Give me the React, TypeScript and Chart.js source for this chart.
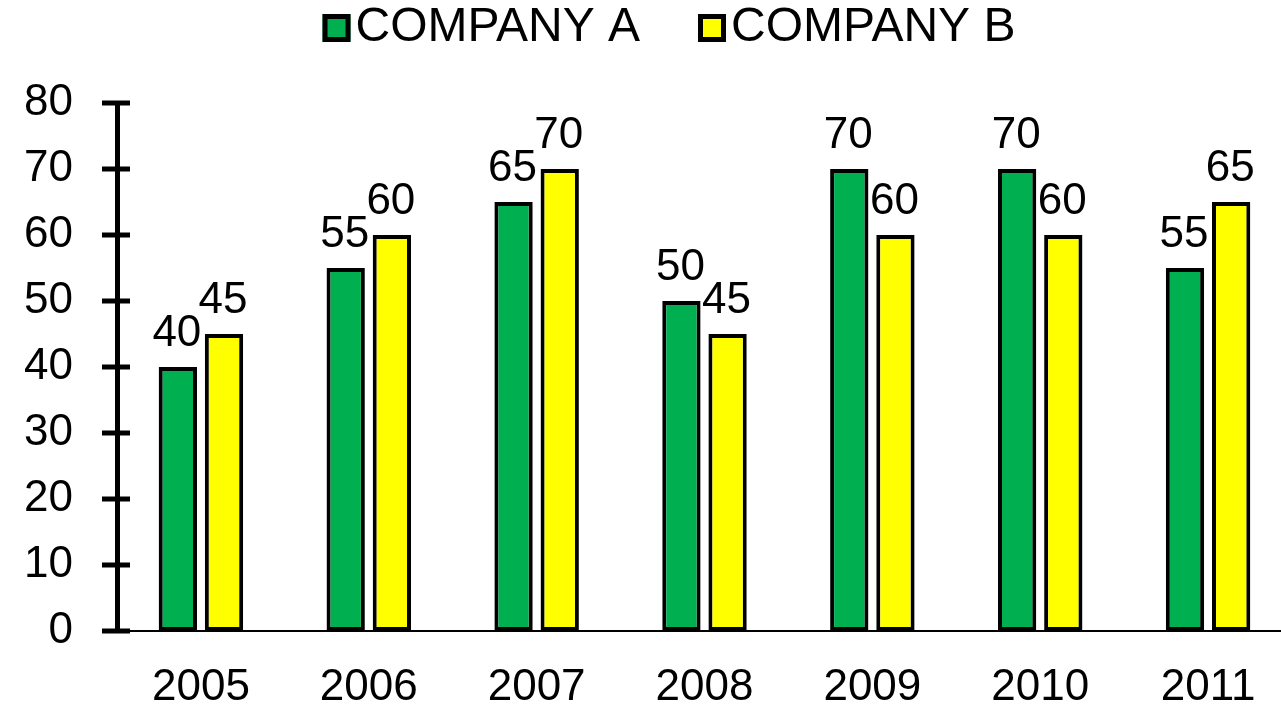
import React, { useEffect, useRef } from "react";
import { Chart, registerables } from "chart.js";

Chart.register(...registerables);

const categories = ["2005", "2006", "2007", "2008", "2009", "2010", "2011"];
const companyA = [40, 55, 65, 50, 70, 70, 55];
const companyB = [45, 60, 70, 45, 60, 60, 65];
const seriesLabels = ["COMPANY A", "COMPANY B"];
const seriesColors = ["#00B050", "#FFFF00"];
const yMin = 0;
const yMax = 80;
const yStep = 10;

const FONT = "'Liberation Sans', Arial, Helvetica, sans-serif";
const W = 1292;
const H = 708;

const crossTicksPlugin = {
  id: "crossTicks",
  afterDraw(chart: any) {
    const ctx = chart.ctx;
    const y = chart.scales.y;
    const left = chart.chartArea.left;
    ctx.save();
    ctx.strokeStyle = "#000";
    ctx.lineWidth = 5;
    y.ticks.forEach((_t: any, i: number) => {
      const py = y.getPixelForTick(i);
      ctx.beginPath();
      ctx.moveTo(left - 15, py);
      ctx.lineTo(left + 13, py);
      ctx.stroke();
    });
    ctx.restore();
  },
};

const valueLabelsPlugin = {
  id: "valueLabels",
  afterDatasetsDraw(chart: any) {
    const ctx = chart.ctx;
    ctx.save();
    ctx.font = `44px ${FONT}`;
    ctx.fillStyle = "#000";
    ctx.textAlign = "center";
    ctx.textBaseline = "alphabetic";
    chart.data.datasets.forEach((ds: any, di: number) => {
      const meta = chart.getDatasetMeta(di);
      meta.data.forEach((el: any, i: number) => {
        ctx.fillText(String(ds.data[i]), el.x - 1, el.y - 21);
      });
    });
    ctx.restore();
  },
};

const legendPlugin = {
  id: "customLegend",
  afterDraw(chart: any) {
    const ctx = chart.ctx;
    ctx.save();
    ctx.font = `48px ${FONT}`;
    const box = 28;
    const gap = 5;
    const spacing = 58;
    const items = chart.data.datasets.map((d: any) => ({
      label: d.label as string,
      color: d.backgroundColor as string,
      w: ctx.measureText(d.label).width,
    }));
    let total = 0;
    items.forEach((it: any, i: number) => {
      total += box + gap + it.w + (i > 0 ? spacing : 0);
    });
    let x = 669 - total / 2;
    const yc = 28;
    items.forEach((it: any) => {
      ctx.fillStyle = it.color;
      ctx.fillRect(x, yc - box / 2, box, box);
      ctx.strokeStyle = "#000";
      ctx.lineWidth = 5;
      ctx.strokeRect(x + 2.5, yc - box / 2 + 2.5, box - 5, box - 5);
      ctx.fillStyle = "#000";
      ctx.textAlign = "left";
      ctx.textBaseline = "middle";
      ctx.fillText(it.label, x + box + gap, yc);
      x += box + gap + it.w + spacing;
    });
    ctx.restore();
  },
};

export default function App() {
  const ref = useRef<HTMLCanvasElement | null>(null);

  useEffect(() => {
    document.body.style.margin = "0";
    document.body.style.overflow = "hidden";
    document.documentElement.style.overflow = "hidden";
    const canvas = ref.current;
    if (!canvas) return;
    const chart = new Chart(canvas, {
      type: "bar",
      data: {
        labels: categories,
        datasets: [
          {
            label: seriesLabels[0],
            data: companyA,
            backgroundColor: seriesColors[0],
            borderColor: "#000",
            borderWidth: 4,
            borderSkipped: false,
            categoryPercentage: 0.55,
            barPercentage: 0.83,
          },
          {
            label: seriesLabels[1],
            data: companyB,
            backgroundColor: seriesColors[1],
            borderColor: "#000",
            borderWidth: 4,
            borderSkipped: false,
            categoryPercentage: 0.55,
            barPercentage: 0.83,
          },
        ],
      },
      options: {
        animation: false,
        responsive: false,
        devicePixelRatio: 1,
        layout: { padding: { top: 103, left: 0, right: 0, bottom: 0 } },
        plugins: {
          legend: { display: false },
          tooltip: { enabled: false },
        },
        scales: {
          x: {
            grid: { display: false, drawTicks: false },
            border: { display: true, color: "#000", width: 2 },
            ticks: {
              color: "#000",
              font: { family: FONT, size: 44 },
              padding: 30,
              maxRotation: 0,
            },
            afterFit: (s: any) => {
              s.height = 77;
            },
          },
          y: {
            min: yMin,
            max: yMax,
            grid: { display: false, drawTicks: false },
            border: { display: true, color: "#000", width: 5 },
            ticks: {
              stepSize: yStep,
              color: "#000",
              font: { family: FONT, size: 44 },
              padding: 44,
            },
            afterFit: (s: any) => {
              s.width = 117;
            },
          },
        },
      },
      plugins: [crossTicksPlugin, valueLabelsPlugin, legendPlugin],
    });
    return () => chart.destroy();
  }, []);

  return (
    <div style={{ position: "fixed", left: 0, top: 0, width: W, height: H, overflow: "hidden", background: "#fff" }}>
      <canvas ref={ref} width={W} height={H} style={{ display: "block", width: W, height: H }} />
    </div>
  );
}
